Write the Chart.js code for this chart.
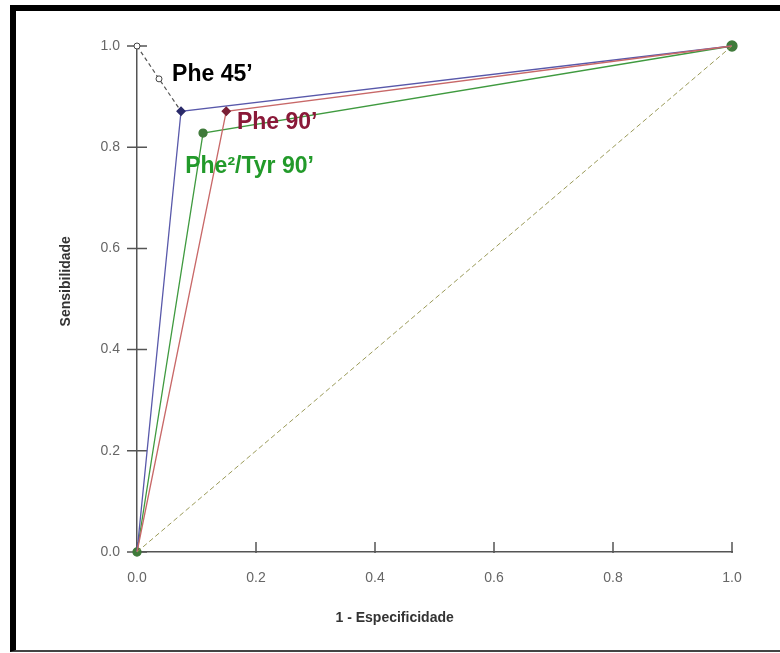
<!DOCTYPE html>
<html>
<head>
<meta charset="utf-8">
<script src="https://cdn.jsdelivr.net/npm/chart.js@4.4.1/dist/chart.umd.min.js"></script>
<style>
  html, body { margin: 0; padding: 0; background: #fff; overflow: hidden; }
  #frame {
    position: absolute; left: 10px; top: 5px; width: 800px; height: 647px;
    box-sizing: border-box;
    border-left: 6px solid #000; border-top: 6px solid #000; border-bottom: 2px solid #444;
  }
  #roc { position: absolute; left: 0; top: 0; }
</style>
</head>
<body>
<div id="frame"></div>
<canvas id="roc" width="780" height="653"></canvas>
<script>
// ROC curves: x = 1 - Especificidade, y = Sensibilidade
const ticks = [0.0, 0.2, 0.4, 0.6, 0.8, 1.0];
const diagonalX = [0, 1];
const diagonalY = [0, 1];
const phe45X = [0, 0.074, 1];
const phe45Y = [0, 0.871, 1];
const phe90X = [0, 0.150, 1];
const phe90Y = [0, 0.871, 1];
const pheTyrX = [0, 0.111, 1];
const pheTyrY = [0, 0.828, 1];
// dashed pointer from the top-left corner to the Phe 45' point
const pointerX = [0, 0.037, 0.074];
const pointerY = [1, 0.935, 0.871];

const curveLabels = [
  { text: "Phe 45\u2019", x: 0.059, y: 0.943, color: "#000000" },
  { text: "Phe 90\u2019", x: 0.168, y: 0.848, color: "#8a1838" },
  { text: "Phe\u00b2/Tyr 90\u2019", x: 0.081, y: 0.762, color: "#229a2a" },
];

const xy = (xs, ys) => xs.map((x, i) => ({ x, y: ys[i] }));

const tickFont = { family: "'Liberation Sans Narrow', 'Liberation Sans', Arial", size: 14 };

const axisDecor = {
  id: "axisDecor",
  beforeDatasetsDraw(chart) {
    const { ctx, scales: { x, y } } = chart;
    ctx.save();
    ctx.strokeStyle = "#555";
    ctx.lineWidth = 1.5;
    ctx.beginPath();
    ticks.forEach((t) => {
      const px = x.getPixelForValue(t);
      ctx.moveTo(px, y.bottom - 10);
      ctx.lineTo(px, y.bottom + 1);
      const py = y.getPixelForValue(t);
      ctx.moveTo(x.left - 10, py);
      ctx.lineTo(x.left + 10, py);
    });
    ctx.stroke();
    ctx.restore();
  },
  afterDraw(chart) {
    const { ctx, scales: { x, y } } = chart;
    ctx.save();
    ctx.fillStyle = "#333";
    ctx.font = "bold 14px 'Liberation Sans', Arial";
    ctx.textAlign = "center";
    ctx.textBaseline = "middle";
    ctx.fillText("1 - Especificidade", x.getPixelForValue(0.433), y.bottom + 66);
    ctx.translate(x.left - 71, y.getPixelForValue(0.535));
    ctx.rotate(-Math.PI / 2);
    ctx.fillText("Sensibilidade", 0, 0);
    ctx.restore();

    ctx.save();
    ctx.font = "bold 23px 'Liberation Sans', Arial";
    ctx.textAlign = "left";
    ctx.textBaseline = "middle";
    curveLabels.forEach((l) => {
      ctx.fillStyle = l.color;
      ctx.fillText(l.text, x.getPixelForValue(l.x), y.getPixelForValue(l.y));
    });
    ctx.restore();
  },
};

new Chart(document.getElementById("roc"), {
  type: "scatter",
  data: {
    datasets: [
      {
        label: "Referência",
        data: xy(diagonalX, diagonalY),
        showLine: true,
        clip: false,
        borderColor: "#9a9a58",
        borderWidth: 1,
        borderDash: [5, 3],
        pointRadius: 0,
      },
      {
        label: "Phe 90\u2019",
        data: xy(phe90X, phe90Y),
        showLine: true,
        clip: false,
        borderColor: "#c86868",
        borderWidth: 1.3,
        pointStyle: "rectRot",
        pointRadius: [0, 4, 0],
        pointBackgroundColor: "#7a1f35",
        pointBorderColor: "#7a1f35",
      },
      {
        label: "Phe 45\u2019",
        data: xy(phe45X, phe45Y),
        showLine: true,
        clip: false,
        borderColor: "#5858aa",
        borderWidth: 1.3,
        pointStyle: "rectRot",
        pointRadius: [0, 4, 0],
        pointBackgroundColor: "#2a2a6a",
        pointBorderColor: "#2a2a6a",
      },
      {
        label: "Phe\u00b2/Tyr 90\u2019",
        data: xy(pheTyrX, pheTyrY),
        showLine: true,
        clip: false,
        borderColor: "#3f9a3f",
        borderWidth: 1.3,
        pointStyle: "circle",
        pointRadius: [4, 4, 5],
        pointBackgroundColor: "#3f7a3a",
        pointBorderColor: "#3f7a3a",
      },
      {
        label: "pointer",
        data: xy(pointerX, pointerY),
        showLine: true,
        clip: false,
        borderColor: "#555",
        borderWidth: 1.2,
        borderDash: [4, 3],
        pointStyle: "circle",
        pointRadius: [3, 3, 0],
        pointBackgroundColor: "#fff",
        pointBorderColor: "#444",
        pointBorderWidth: 1,
      },
    ],
  },
  options: {
    responsive: false,
    animation: false,
    layout: { padding: { top: 46, right: 48, left: 0, bottom: 0 } },
    plugins: { legend: { display: false }, tooltip: { enabled: false } },
    scales: {
      x: {
        type: "linear",
        min: 0,
        max: 1,
        afterFit: (s) => { s.height = 101; },
        afterBuildTicks: (s) => { s.ticks = ticks.map((v) => ({ value: v })); },
        grid: { display: false, drawTicks: false },
        border: { display: true, color: "#555", width: 1.5 },
        ticks: { color: "#666", font: tickFont, padding: 18, callback: (v) => v.toFixed(1) },
      },
      y: {
        type: "linear",
        min: 0,
        max: 1,
        afterFit: (s) => { s.width = 137; },
        afterBuildTicks: (s) => { s.ticks = ticks.map((v) => ({ value: v })); },
        grid: { display: false, drawTicks: false },
        border: { display: true, color: "#555", width: 1.5 },
        ticks: { color: "#666", font: tickFont, padding: 17, callback: (v) => v.toFixed(1) },
      },
    },
  },
  plugins: [axisDecor],
});
</script>
</body>
</html>
